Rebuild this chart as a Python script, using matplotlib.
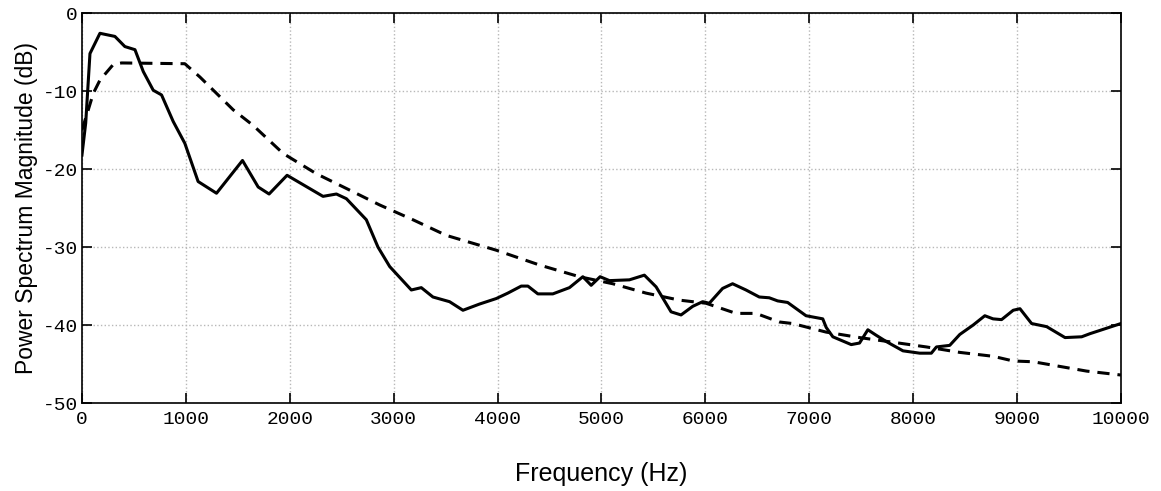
import matplotlib.pyplot as plt
import numpy as np

# measured spectrum (solid)
freq_meas = [0, 36, 77, 173, 317, 413, 510, 590, 686, 766, 878, 990, 1118, 1295, 1545, 1696, 1801,
             1974, 2320, 2449, 2545, 2737, 2849, 2962, 3170, 3266, 3378, 3538, 3667, 3827, 3987,
             4099, 4228, 4292, 4388, 4532, 4692, 4821, 4901, 4987, 5077, 5269, 5413, 5526, 5670,
             5766, 5878, 5974, 6038, 6166, 6262, 6391, 6519, 6615, 6696, 6792, 6969, 7130, 7163,
             7227, 7404, 7484, 7564, 7644, 7740, 7902, 8063, 8175, 8224, 8352, 8449, 8577, 8690,
             8769, 8851, 8963, 9028, 9140, 9285, 9462, 9622, 9702, 10000]
db_meas = [-18.2, -14.1, -5.2, -2.6, -3.0, -4.3, -4.7, -7.5, -9.9, -10.5, -13.9, -16.7, -21.6, -23.1,
           -18.9, -22.3, -23.2, -20.8, -23.5, -23.2, -23.8, -26.5, -30.0, -32.5, -35.5, -35.2,
           -36.4, -37.0, -38.1, -37.3, -36.6, -35.9, -35.0, -35.0, -36.0, -36.0, -35.2, -33.8,
           -34.9, -33.8, -34.3, -34.2, -33.6, -35.1, -38.3, -38.7, -37.6, -37.0, -37.2, -35.3,
           -34.7, -35.5, -36.4, -36.5, -36.9, -37.1, -38.8, -39.2, -40.3, -41.5, -42.5, -42.3,
           -40.6, -41.3, -42.1, -43.3, -43.6, -43.6, -42.8, -42.6, -41.2, -40.0, -38.8, -39.2,
           -39.3, -38.1, -37.9, -39.8, -40.2, -41.6, -41.5, -41.1, -39.8]

# model spectrum (dashed)
freq_model = [0, 61, 109, 173, 301, 381, 990, 1135, 1455, 1647, 1936, 2256, 2577, 2865, 3186, 3506,
              3987, 4404, 4788, 5109, 5429, 5750, 6006, 6295, 6487, 6711, 6840, 7163, 7484, 7806,
              8127, 8449, 8770, 8963, 9156, 9413, 9671, 10000]
db_model = [-15.0, -12.4, -10.3, -8.6, -6.6, -6.4, -6.5, -8.2, -12.4, -14.4, -18.0, -20.6, -22.7, -24.6,
            -26.5, -28.5, -30.4, -32.3, -33.8, -34.7, -35.9, -36.8, -37.2, -38.5, -38.5, -39.6,
            -39.8, -40.9, -41.6, -42.2, -42.8, -43.5, -44.0, -44.6, -44.7, -45.3, -45.9, -46.4]

xticks = [0, 1000, 2000, 3000, 4000, 5000, 6000, 7000, 8000, 9000, 10000]
yticks = [-50, -40, -30, -20, -10, 0]

fig = plt.figure(figsize=(11.61, 4.91), dpi=100)
ax = fig.add_axes([0.0706, 0.179, 0.8949, 0.7945])

ax.plot(freq_meas, db_meas, color='black', lw=2.2, solid_joinstyle='round')
ax.plot(freq_model, db_model, color='black', lw=2.2, linestyle=(0, (4, 2.6)))

ax.set_xlim(0, 10000)
ax.set_ylim(-50, 0)
ax.set_xticks(xticks)
ax.set_yticks(yticks)
ax.set_xticklabels([str(v) for v in xticks], fontfamily='Liberation Mono', fontsize=14)
ax.set_yticklabels([str(v) for v in yticks], fontfamily='Liberation Mono', fontsize=14)
ax.tick_params(direction='in', top=True, right=True, length=7, width=1.2, pad=3)
ax.tick_params(axis='x', pad=6)
ax.grid(True, linestyle=':', color='#b8b8b8', linewidth=1)
for s in ax.spines.values():
    s.set_linewidth(1.2)

ax.set_xlabel('Frequency (Hz)', fontfamily='Liberation Sans', fontsize=18, labelpad=24)
ax.set_ylabel('Power Spectrum Magnitude (dB)', fontfamily='Liberation Sans', fontsize=16.5, labelpad=3)

fig.savefig('out.png', dpi=100)
